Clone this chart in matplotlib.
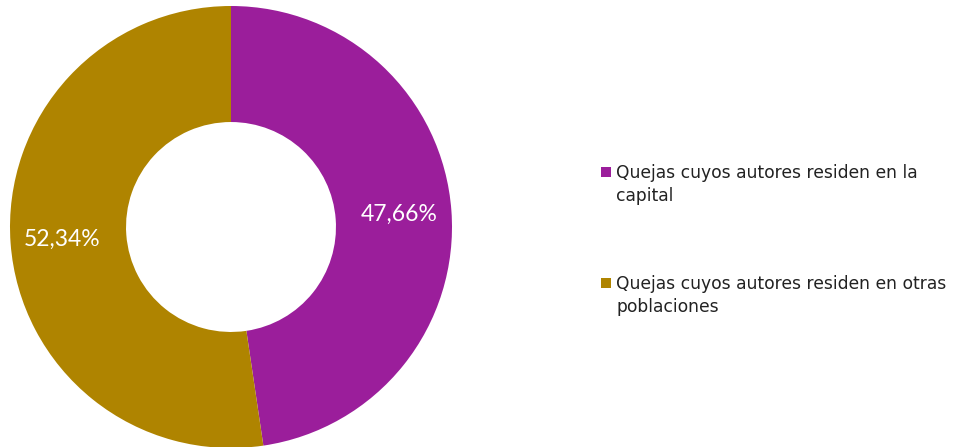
import matplotlib
matplotlib.use("Agg")
import matplotlib.pyplot as plt
from matplotlib.patches import Rectangle

# Data
labels = ["Quejas cuyos autores residen en la\ncapital",
          "Quejas cuyos autores residen en otras\npoblaciones"]
values = [47.66, 52.34]
colors = ["#9B1E9B", "#AF8400"]

W, H = 955, 447
fig = plt.figure(figsize=(W / 100, H / 100), dpi=100)
ax = fig.add_axes([10 / W, -1 / H, 442 / W, 442 / H])

wedges, texts, autotexts = ax.pie(
    values, colors=colors, startangle=90, counterclock=False,
    radius=1.0, pctdistance=0.765,
    autopct=lambda p: f"{p:.2f}%".replace(".", ","),
    wedgeprops=dict(width=0.525, edgecolor="none"),
    textprops=dict(color="white", fontsize=16.5, family="Lato"))
ax.set_xlim(-1, 1)
ax.set_ylim(-1, 1)
ax.set_aspect("equal")

# legend drawn by hand: square next to first line of each label
for i, (lab, col) in enumerate(zip(labels, colors)):
    y = 172 + i * 111
    fig.patches.append(Rectangle((601 / W, 1 - (y + 5) / H), 10 / W, 10 / H,
                                 facecolor=col, edgecolor="none",
                                 transform=fig.transFigure))
    fig.text(616 / W, 1 - (y - 8) / H, lab, ha="left", va="top",
             family="DejaVu Sans", fontsize=12.3, color="#222222",
             linespacing=1.33)

fig.savefig("out.png", dpi=100)
